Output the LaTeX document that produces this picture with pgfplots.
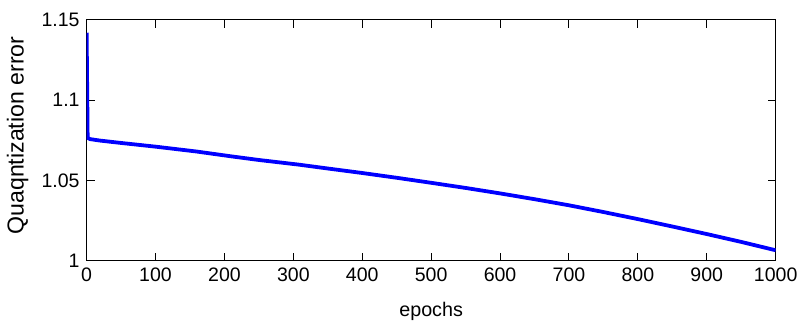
\documentclass[border=0pt]{standalone}
\usepackage{fontspec}
\setmainfont{Liberation Sans}
\usepackage{pgfplots}
\pgfplotsset{compat=1.18}
\begin{document}
\begin{tikzpicture}
\begin{axis}[
  scale only axis,
  width=346pt, height=121pt,
  xmin=0, xmax=1000, ymin=1, ymax=1.15,
  xtick={0,100,...,1000},
  xticklabels={0,100,200,300,400,500,600,700,800,900,1000},
  ytick={1,1.05,1.1,1.15},
  yticklabels={1,1.05,1.1,1.15},
  /pgf/number format/assume math mode=true,
  tick label style={font=\fontsize{9.8}{11}\selectfont},
  tick align=inside,
  major tick length=4pt,
  axis line style={line width=0.5pt},
  every tick/.style={black, line width=0.5pt},
  xlabel={epochs},
  ylabel={Quaqntization error},
  xlabel style={font=\fontsize{9.9}{11}\selectfont, at={(axis description cs:0.5,-0.21)}, anchor=center},
  ylabel style={font=\fontsize{11.6}{13}\selectfont, at={(axis description cs:-0.1,0.52)}, anchor=center},
]
\addplot[color={rgb,255:red,0;green,0;blue,255}, line width=1.9pt, line join=round] coordinates {
(0,1.142) (1.5,1.0765) (5,1.0758) (19,1.0749) (50,1.0734) (100,1.0711) (159,1.0681)
(211,1.0650) (250,1.0628) (308,1.0599) (350,1.0575) (400,1.0547) (452,1.0516)
(500,1.0486) (550,1.0454) (600,1.0420) (650,1.0384) (700,1.0346)
(750,1.0304) (800,1.0260) (850,1.0214) (900,1.0167) (950,1.0118) (1000,1.0066)
};
\end{axis}
\path ([xshift=-43.5pt,yshift=-29.5pt]current axis.south west) rectangle ([xshift=12.5pt,yshift=10pt]current axis.north east);
\end{tikzpicture}
\end{document}
